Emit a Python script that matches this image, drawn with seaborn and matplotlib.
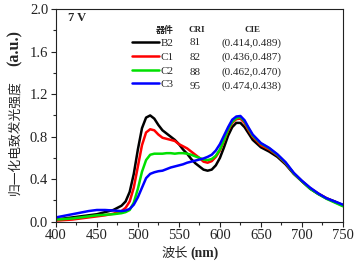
import numpy as np
import pandas as pd
import matplotlib
matplotlib.use('Agg')
import matplotlib.pyplot as plt
import seaborn as sns

# wavelength grid (nm)
wavelength = [400, 410, 420, 430, 440, 450, 460, 470, 480, 485, 490, 495, 500, 505, 510, 515,
              520, 525, 530, 535, 540, 545, 550, 555, 560, 565, 570, 575, 580, 585, 590, 595,
              600, 605, 610, 615, 620, 625, 630, 635, 640, 650, 660, 670, 680, 690, 700, 710,
              720, 730, 740, 750]

b2 = [0.02, 0.03, 0.04, 0.05, 0.06, 0.07, 0.09, 0.11, 0.15, 0.19, 0.28, 0.45, 0.68, 0.88, 0.98, 1.00,
      0.97, 0.91, 0.86, 0.83, 0.80, 0.77, 0.73, 0.68, 0.64, 0.59, 0.55, 0.52, 0.49, 0.48, 0.49, 0.53,
      0.60, 0.70, 0.81, 0.89, 0.93, 0.93, 0.89, 0.83, 0.77, 0.70, 0.66, 0.61, 0.54, 0.45, 0.38, 0.31,
      0.26, 0.22, 0.19, 0.155]
c1 = [0.01, 0.015, 0.02, 0.03, 0.04, 0.05, 0.06, 0.075, 0.10, 0.13, 0.19, 0.32, 0.52, 0.72, 0.84, 0.87,
      0.86, 0.82, 0.79, 0.78, 0.77, 0.76, 0.73, 0.71, 0.69, 0.66, 0.63, 0.60, 0.565, 0.555, 0.57, 0.61,
      0.67, 0.76, 0.86, 0.93, 0.965, 0.97, 0.93, 0.86, 0.80, 0.72, 0.68, 0.625, 0.55, 0.455, 0.38, 0.315,
      0.265, 0.22, 0.185, 0.15]
c2 = [0.02, 0.025, 0.03, 0.04, 0.05, 0.06, 0.065, 0.07, 0.08, 0.09, 0.11, 0.18, 0.31, 0.47, 0.58, 0.63,
      0.64, 0.64, 0.64, 0.645, 0.645, 0.64, 0.645, 0.645, 0.64, 0.63, 0.615, 0.60, 0.585, 0.58, 0.59, 0.62,
      0.68, 0.77, 0.87, 0.94, 0.975, 0.985, 0.945, 0.875, 0.81, 0.735, 0.69, 0.63, 0.555, 0.455, 0.38, 0.31,
      0.26, 0.215, 0.18, 0.145]
c3 = [0.04, 0.055, 0.07, 0.085, 0.10, 0.11, 0.11, 0.105, 0.10, 0.105, 0.12, 0.16, 0.23, 0.32, 0.41, 0.45,
      0.465, 0.475, 0.48, 0.495, 0.51, 0.52, 0.53, 0.54, 0.555, 0.565, 0.575, 0.585, 0.595, 0.61, 0.63, 0.67,
      0.73, 0.81, 0.89, 0.96, 0.99, 0.995, 0.955, 0.885, 0.82, 0.74, 0.695, 0.635, 0.56, 0.46, 0.385, 0.32,
      0.265, 0.22, 0.19, 0.16]

devices = ['B2', 'C1', 'C2', 'C3']
cri = ['81', '82', '88', '95']
cie = ['(0.414,0.489)', '(0.436,0.487)', '(0.462,0.470)', '(0.474,0.438)']
colors = ['#000000', '#ff0000', '#00e000', '#0000ff']

sns.set_theme(style='ticks')
plt.rcParams['font.family'] = ['Liberation Serif', 'Noto Sans CJK SC']
cjk = ['Noto Sans CJK SC', 'DejaVu Sans']

fig = plt.figure(figsize=(3.58, 2.71), dpi=100)
ax = fig.add_axes([0.156, 0.182, 0.802, 0.784])

for name, vals, col in zip(devices, [b2, c1, c2, c3], colors):
    df = pd.DataFrame({'wl': wavelength, 'el': vals})
    sns.lineplot(data=df, x='wl', y='el', color=col, lw=1.8, label=name, ax=ax)

ax.set_xlim(400, 750)
ax.set_ylim(0, 2.0)
ax.set_xticks(np.arange(400, 751, 50))
ax.set_xticks(np.arange(425, 750, 50), minor=True)
ax.set_yticks(np.arange(0, 2.01, 0.4))
ax.set_yticks(np.arange(0.2, 2.0, 0.4), minor=True)
ax.yaxis.set_major_formatter(matplotlib.ticker.FormatStrFormatter('%.1f'))
ax.tick_params(which='major', direction='out', length=3.5, width=0.8, labelsize=10.5, pad=2, colors='#222222')
ax.tick_params(which='minor', direction='out', length=2, width=0.8)
for s in ax.spines.values():
    s.set_visible(True)
    s.set_linewidth(0.8)
    s.set_color('#222222')
ax.set_xlabel('')
ax.set_ylabel('')

# axis titles: chinese part + bold serif unit
fig.text(162 / 358, 0.066, '波长', family=cjk, fontsize=9.5, ha='left', va='center')
fig.text(219 / 358, 0.066, '(nm)', fontsize=9.8, fontweight='bold', ha='right', va='center')
fig.text(0.042, 0.280, '归一化电致发光强度', family=cjk, fontsize=9.2, rotation=90, ha='center', va='bottom')
fig.text(0.042, 0.889, '(a.u.)', fontsize=11.5, fontweight='bold', rotation=90, ha='center', va='top')

ax.legend(loc='upper left', bbox_to_anchor=(0.265, 0.862), frameon=False, fontsize=8,
          handlelength=2.4, handletextpad=0.15, labelspacing=0.35, borderaxespad=0, borderpad=0)

ax.text(0.042, 0.958, '7 V', transform=ax.transAxes, fontsize=9, fontweight='bold', va='center', ha='left')
ax.text(0.38, 0.902, '器件', transform=ax.transAxes, family=cjk, fontsize=6.5, fontweight='bold', va='center', ha='center')
ax.text(0.49, 0.902, 'CRI', transform=ax.transAxes, fontsize=6.5, fontweight='bold', va='center', ha='center')
ax.text(0.686, 0.902, 'CIE', transform=ax.transAxes, fontsize=6.5, fontweight='bold', va='center', ha='center')
row_y = [0.841, 0.773, 0.704, 0.636]
for y, r, c in zip(row_y, cri, cie):
    ax.text(0.484, y, r, transform=ax.transAxes, fontsize=8, va='center', ha='center')
    ax.text(0.681, y, c, transform=ax.transAxes, fontsize=8, va='center', ha='center')

fig.savefig('out.png', dpi=100)
